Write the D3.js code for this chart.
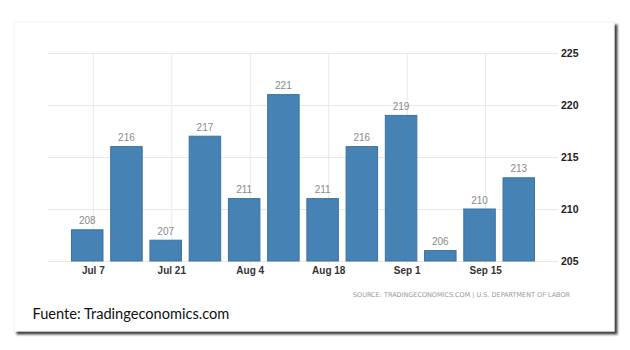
<!DOCTYPE html>
<html>
<head>
<meta charset="utf-8">
<script src="https://cdn.jsdelivr.net/npm/d3@7"></script>
<style>
  body { margin: 0; background: #fff; }
</style>
</head>
<body>
<div id="chart"></div>
<script>
// weekly values (weeks ending on Saturday)
var weeks = ["2019-07-06", "2019-07-13", "2019-07-20", "2019-07-27", "2019-08-03", "2019-08-10",
             "2019-08-17", "2019-08-24", "2019-08-31", "2019-09-07", "2019-09-14", "2019-09-21"];
var values = [208, 216, 207, 217, 211, 221, 211, 216, 219, 206, 210, 213];
var yTicks = [205, 210, 215, 220, 225];
var xTicks = ["2019-07-07", "2019-07-21", "2019-08-04", "2019-08-18", "2019-09-01", "2019-09-15"];

var parse = d3.timeParse("%Y-%m-%d");
var data = weeks.map(function(w, i){ return {date: parse(w), value: values[i]}; });

var svg = d3.select("#chart")
  .append("svg")
    .attr("width", 630)
    .attr("height", 350);

// card with shadow
var defs = svg.append("defs");
var f = defs.append("filter").attr("id", "shadow")
    .attr("x", "-5%").attr("y", "-5%").attr("width", "110%").attr("height", "115%");
f.append("feDropShadow")
    .attr("dx", 3).attr("dy", 3).attr("stdDeviation", 1.2)
    .attr("flood-color", "#222").attr("flood-opacity", 0.85);

svg.append("rect")
    .attr("x", 14).attr("y", 22)
    .attr("width", 600).attr("height", 309)
    .attr("fill", "#fff")
    .attr("stroke", "#f0f0f0")
    .attr("filter", "url(#shadow)");

var plotLeft = 48, plotRight = 558, plotTop = 53, plotBottom = 261;

var x = d3.scaleTime()
    .domain([parse("2019-06-29"), parse("2019-09-28")])
    .range([plotLeft, plotRight]);

var y = d3.scaleLinear()
    .domain([205, 225])
    .range([plotBottom, plotTop]);

// y axis on the right, with gridlines
var yAxis = svg.append("g")
    .attr("transform", "translate(" + plotRight + ",0)")
    .call(d3.axisRight(y).tickValues(yTicks).tickSizeInner(-(plotRight - plotLeft)).tickSizeOuter(0).tickPadding(3));
yAxis.select(".domain").remove();
yAxis.selectAll("line").attr("stroke", "#e8e8e8");
yAxis.selectAll("text")
    .style("font-family", "Liberation Sans")
    .style("font-size", "10.5px")
    .style("font-weight", "bold")
    .attr("fill", "#222");

// x axis, with vertical gridlines
var xAxis = svg.append("g")
    .attr("transform", "translate(0," + (plotBottom + 3) + ")")
    .call(d3.axisBottom(x)
        .tickValues(xTicks.map(parse))
        .tickFormat(d3.timeFormat("%b %-d"))
        .tickSizeInner(-(plotBottom + 3 - plotTop)).tickSizeOuter(0).tickPadding(3));
xAxis.select(".domain").remove();
xAxis.selectAll("line").attr("stroke", "#e8e8e8");
xAxis.selectAll("text")
    .style("font-family", "Liberation Sans")
    .style("font-size", "10px")
    .style("font-weight", "bold")
    .attr("fill", "#333");

// bars
var barWidth = 31.5;
svg.selectAll("bars")
    .data(data)
    .enter()
    .append("rect")
      .attr("x", function(d){ return x(d.date) - barWidth/2; })
      .attr("y", function(d){ return y(d.value); })
      .attr("width", barWidth)
      .attr("height", function(d){ return y(205) - y(d.value); })
      .attr("fill", "#4682b4")
      .attr("stroke", "#3b72a3")
      .attr("stroke-width", 1);

// value labels
svg.selectAll("vals")
    .data(data)
    .enter()
    .append("text")
      .attr("x", function(d){ return x(d.date); })
      .attr("y", function(d){ return y(d.value) - 5.5; })
      .attr("text-anchor", "middle")
      .text(function(d){ return d.value; })
      .style("font-family", "Liberation Sans")
      .style("font-size", "10px")
      .attr("fill", "#8a8a8a");

// source
svg.append("text")
    .attr("x", 353)
    .attr("y", 296.5)
    .attr("textLength", 217)
    .attr("lengthAdjust", "spacingAndGlyphs")
    .text("SOURCE: TRADINGECONOMICS.COM | U.S. DEPARTMENT OF LABOR")
    .style("font-family", "DejaVu Sans")
    .style("font-size", "6.5px")
    .attr("fill", "#999");

svg.append("text")
    .attr("x", 32.5)
    .attr("y", 318.5)
    .text("Fuente: Tradingeconomics.com")
    .style("font-family", "Lato")
    .style("font-size", "14.6px")
    .attr("fill", "#111");
</script>
</body>
</html>
